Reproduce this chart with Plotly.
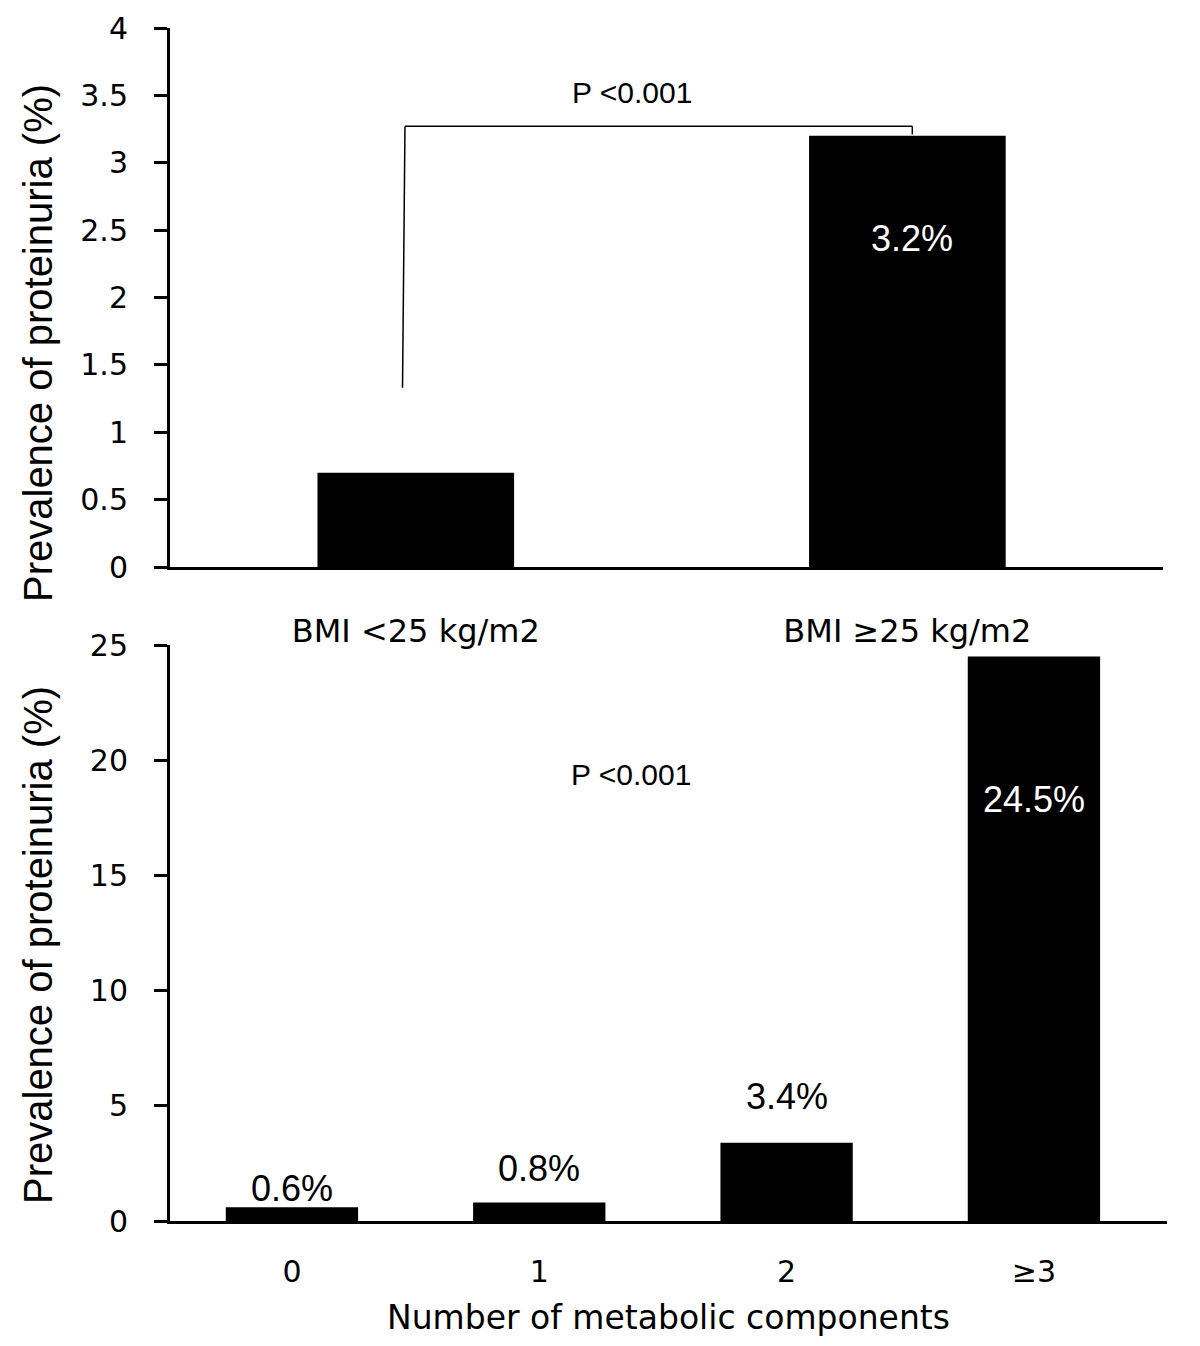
import plotly.graph_objects as go

# ---- data ----
bmi_groups = ["BMI <25 kg/m2", "BMI ≥25 kg/m2"]
bmi_prev = [0.7, 3.2]

comp_groups = ["0", "1", "2", "≥3"]
comp_prev = [0.6, 0.8, 3.4, 24.5]
comp_labels = ["0.6%", "0.8%", "3.4%", "24.5%"]

bmi_label_text = "3.2%"
p_text = "P <0.001"

y_title = "Prevalence of proteinuria (%)"
x_title = "Number of metabolic components"

# label positions (data units) - layout only
comp_label_y = [1.43, 2.3, 5.4, 18.3]
comp_label_color = ["black", "black", "black", "white"]

ARIAL = "Liberation Sans, Arial, Helvetica, sans-serif"
WIDE = "DejaVu Sans, Verdana, sans-serif"

W, H = 1200, 1346
OFF = 8  # page body margin


def px(xp):
    return (xp - OFF) / W


def py(yp):
    return 1 - (yp - OFF) / H


fig = go.Figure()
fig.add_trace(go.Bar(x=bmi_groups, y=bmi_prev, width=0.4, marker=dict(color="black", line=dict(width=0)),
                     xaxis="x", yaxis="y", showlegend=False, hoverinfo="x+y"))
fig.add_trace(go.Bar(x=comp_groups, y=comp_prev, width=0.535, marker=dict(color="black", line=dict(width=0)),
                     xaxis="x2", yaxis="y2", showlegend=False, hoverinfo="x+y"))

line_common = dict(showline=True, linecolor="black", linewidth=3, showgrid=False, zeroline=False,
                   automargin=False)
ytick = dict(ticks="outside", ticklen=13, tickwidth=3, tickcolor="black", ticklabelstandoff=20,
             tickfont=dict(family=WIDE, size=30, color="black"))

fig.update_layout(
    width=W, height=H,
    margin=dict(l=0, r=0, t=0, b=0),
    paper_bgcolor="white", plot_bgcolor="white",
    font=dict(family=ARIAL, color="black"),
    xaxis=dict(domain=[px(170), px(1163)], anchor="y", type="category", range=[-0.5, 1.52],
               ticks="", ticklabelstandoff=34, tickfont=dict(family=WIDE, size=32, color="black"),
               **line_common),
    yaxis=dict(domain=[py(567), py(28)], anchor="x", range=[0, 4], dtick=0.5, tick0=0,
               **ytick, **line_common),
    xaxis2=dict(domain=[px(170), px(1167)], anchor="y2", type="category", range=[-0.493, 3.538],
                ticks="", ticklabelstandoff=22, tickfont=dict(family=WIDE, size=30, color="black"),
                **line_common),
    yaxis2=dict(domain=[py(1221), py(645)], anchor="x2", range=[0, 25], dtick=5, tick0=0,
                **ytick, **line_common),
)

annotations = []
# y-axis titles
for yc in (343, 945):
    annotations.append(dict(text=y_title, x=px(38), y=py(yc), xref="paper", yref="paper", textangle=-90,
                            showarrow=False, font=dict(family=ARIAL, size=40, color="black"),
                            xanchor="center", yanchor="middle"))
# x title bottom
annotations.append(dict(text=x_title, x=px(668), y=py(1317), xref="paper", yref="paper",
                        showarrow=False, font=dict(family=WIDE, size=33, color="black"),
                        xanchor="center", yanchor="middle"))
# top panel labels
annotations.append(dict(text=bmi_label_text, x=1.01, y=2.44, xref="x", yref="y", showarrow=False,
                        font=dict(family=ARIAL, size=36, color="white")))
annotations.append(dict(text=p_text, x=0.44, y=3.52, xref="x", yref="y", showarrow=False,
                        font=dict(family=ARIAL, size=30, color="black")))
# bottom panel labels
for i, (lab, ly, col) in enumerate(zip(comp_labels, comp_label_y, comp_label_color)):
    annotations.append(dict(text=lab, x=i, y=ly, xref="x2", yref="y2", showarrow=False,
                            font=dict(family=ARIAL, size=36, color=col)))
annotations.append(dict(text=p_text, x=1.37, y=19.4, xref="x2", yref="y2", showarrow=False,
                        font=dict(family=ARIAL, size=30, color="black")))
fig.update_layout(annotations=annotations)

# significance bracket (top panel)
br = dict(color="black", width=1.5)
fig.add_shape(type="line", xref="x", yref="y", x0=-0.027, x1=-0.022, y0=1.33, y1=3.27, line=br)
fig.add_shape(type="line", xref="x", yref="y", x0=-0.022, x1=1.01, y0=3.27, y1=3.27, line=br)
fig.add_shape(type="line", xref="x", yref="y", x0=1.01, x1=1.01, y0=3.27, y1=3.21, line=br)

fig.write_html("out.html")
